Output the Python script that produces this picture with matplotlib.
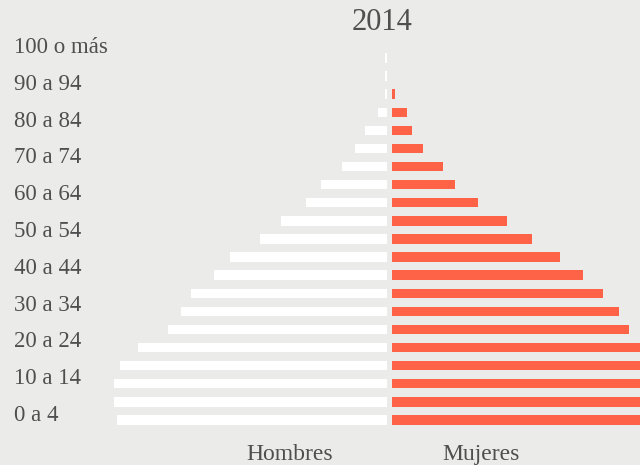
import matplotlib.pyplot as plt
import matplotlib.transforms as mtransforms
import numpy as np

# grupos de edad, de abajo hacia arriba
grupos = ["0 a 4", "5 a 9", "10 a 14", "15 a 19", "20 a 24", "25 a 29",
          "30 a 34", "35 a 39", "40 a 44", "45 a 49", "50 a 54", "55 a 59",
          "60 a 64", "65 a 69", "70 a 74", "75 a 79", "80 a 84", "85 a 89",
          "90 a 94", "95 a 99", "100 o más"]
hombres = [270, 273, 273, 267, 249, 219, 206, 196, 173, 157, 127, 106,
           81, 66, 45, 32, 22, 9, 2, 2, 2]
mujeres = [262, 266, 266, 262, 255, 237, 227, 211, 191, 168, 140, 115,
           86, 63, 51, 31, 20, 15, 3, 0, 0]
etiquetas = grupos[::2]
titulo = "2014"

bg = "#ebecea"
rojo = "#ff6347"
gris = "#4f4f4f"
plt.rcParams["font.family"] = ["Liberation Serif", "DejaVu Serif"]

fig = plt.figure(figsize=(6.4, 4.65), dpi=100, facecolor=bg)
ax = fig.add_axes([0, 0, 1, 1])
ax.set_facecolor(bg)

y = np.arange(len(grupos))
gap = 5
ax.barh(y, -np.array(hombres), left=-gap / 2, height=0.52, color="white")
ax.barh(y, mujeres, left=gap / 2, height=0.52, color=rojo)

ax.set_xlim(-389.7, 250.3)
ax.set_ylim(-2.49, 23.2)
ax.axis("off")

trans = mtransforms.blended_transform_factory(ax.transAxes, ax.transData)
for i, lab in enumerate(etiquetas):
    ax.text(14 / 640, -0.06 + 2.033 * i, lab, transform=trans, ha="left",
            va="baseline", fontsize=16.5, color=gris)

fig.text(382 / 640, 1 - 30 / 465, titulo, ha="center", va="baseline",
         fontsize=22, color=gris)
fig.text(290 / 640, 1 - 460 / 465, "Hombres", ha="center", va="baseline",
         fontsize=17, color=gris)
fig.text(481 / 640, 1 - 460 / 465, "Mujeres", ha="center", va="baseline",
         fontsize=17, color=gris)

fig.savefig("out.png", dpi=100, facecolor=bg)
plt.close(fig)
